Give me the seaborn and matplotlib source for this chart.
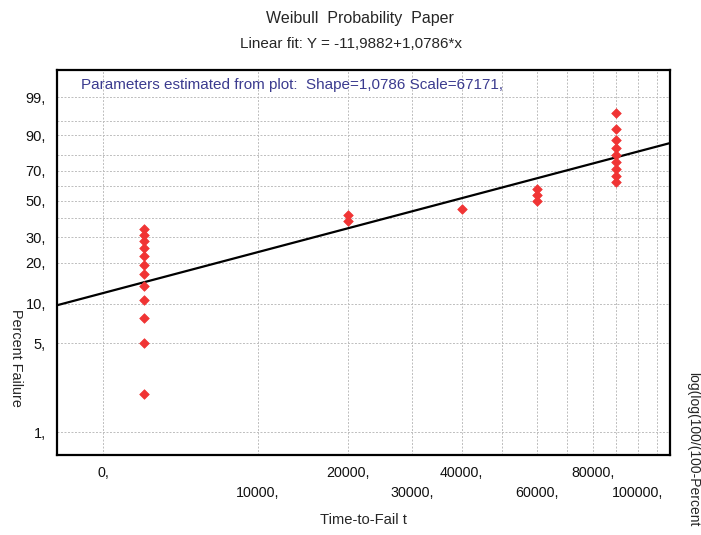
import numpy as np
import pandas as pd
import matplotlib
matplotlib.use("Agg")
import matplotlib.pyplot as plt
import seaborn as sns

# ---------------- data ----------------
time_to_fail = [12000, 12000, 12000, 12000, 12000, 12000, 12000, 12000, 12000, 12000, 12000, 12000,
                30000, 30000,
                50000,
                70000, 70000, 70000,
                100000, 100000, 100000, 100000, 100000, 100000, 100000, 100000, 100000]
percent_failure = [2.0, 5.0, 7.8, 10.7, 13.7, 16.5, 19.2, 22.4, 25.4, 28.1, 31.1, 34.0,
                   38.2, 41.3,
                   45.2,
                   49.8, 53.9, 57.9,
                   62.1, 66.5, 71.1, 75.7, 79.7, 84.0, 88.0, 92.4, 96.8]
fit_intercept = -11.9882
fit_slope = 1.0786

y_tick_values = [1, 5, 10, 20, 30, 50, 70, 90, 99]
y_tick_labels = ["1,", "5,", "10,", "20,", "30,", "50,", "70,", "90,", "99,"]
y_grid_values = [1, 5, 10, 20, 30, 40, 50, 60, 70, 80, 90, 95, 99]

x_grid_values = [10000, 20000, 30000, 40000, 50000, 60000, 70000, 80000,
                 90000, 100000, 110000, 120000]
x_row1_pos = [10000, 30000, 50000, 90000]
x_row1_labels = ["0,", "20000,", "40000,", "80000,"]
x_row2_pos = [20000, 40000, 70000, 110000]
x_row2_labels = ["10000,", "30000,", "60000,", "100000,"]

t_min, t_max = 8137, 127200
p_bottom, p_top = 0.6622, 99.9488   # percent at bottom / top edge


def wy(p):
    p = np.asarray(p, dtype=float) / 100.0
    return np.log(-np.log(1.0 - p))


def wx(t):
    return np.log(np.asarray(t, dtype=float))


# ---------------- styling ----------------
sns.set_style("white")
plt.rcParams["font.family"] = ["Liberation Sans", "DejaVu Sans"]
plt.rcParams["font.size"] = 10

fig = plt.figure(figsize=(7.01, 5.35), dpi=100)
ax = fig.add_axes([57 / 701, 1 - 455 / 535, 613 / 701, 385 / 535])

df = pd.DataFrame({"x": wx(time_to_fail), "y": wy(percent_failure)})

xlo, xhi = float(wx(t_min)), float(wx(t_max))
ylo, yhi = float(wy(p_bottom)), float(wy(p_top))

grid_kw = dict(color="#bdbdbd", lw=0.7, ls=(0, (2, 1.6)), zorder=0)
for g in x_grid_values:
    ax.axvline(float(wx(g)), **grid_kw)
for g in y_grid_values:
    ax.axhline(float(wy(g)), **grid_kw)

# fit line
line_x = np.array([xlo, xhi])
line_df = pd.DataFrame({"x": line_x, "y": fit_intercept + fit_slope * line_x})
sns.lineplot(data=line_df, x="x", y="y", ax=ax, color="black", lw=1.6, zorder=3)

sns.scatterplot(data=df, x="x", y="y", ax=ax, marker="D", s=24,
                color="#f03434", edgecolor="#f03434", linewidth=0.5, zorder=4)

ax.set_xlim(xlo, xhi)
ax.set_ylim(ylo, yhi)

ax.set_yticks(wy(y_tick_values))
ax.set_yticklabels(y_tick_labels)
ax.set_xticks(wx(x_row1_pos))
ax.set_xticklabels(x_row1_labels)
ax.set_xticks(wx(x_row2_pos), minor=True)
ax.set_xticklabels(x_row2_labels, minor=True)
ax.tick_params(axis="y", length=0, pad=8, labelsize=10.5, labelcolor="#111111")
ax.tick_params(axis="x", which="major", length=0, pad=8, labelsize=10.3, labelcolor="#111111")
ax.tick_params(axis="x", which="minor", length=0, pad=22, labelsize=10.3, labelcolor="#111111")
ax.set_xlabel("")
ax.set_ylabel("")

for s in ax.spines.values():
    s.set_visible(True)
    s.set_color("black")
    s.set_linewidth(1.6)

ax.text((81 - 57) / 613, 1 - 15 / 385, "Parameters estimated from plot:  Shape=1,0786 Scale=67171,",
        transform=ax.transAxes, ha="left", va="center", color="#3b3b8f", fontsize=11)

fig.text(360 / 701, 1 - 18 / 535, "Weibull  Probability  Paper",
         ha="center", va="center", fontsize=11.5)
fig.text(351 / 701, 1 - 44 / 535, "Linear fit: Y = -11,9882+1,0786*x",
         ha="center", va="center", fontsize=11)
fig.text(363 / 701, 1 - 520 / 535, "Time-to-Fail t", ha="center", va="center", fontsize=10.6)
fig.text(16 / 701, 1 - 358 / 535, "Percent Failure", rotation=270,
         ha="center", va="center", fontsize=10.4)
fig.text(693 / 701, 1 - 372 / 535, "log(log(100/(100-Percent", rotation=270,
         rotation_mode="anchor", ha="left", va="center", fontsize=10)

fig.savefig("out.png", dpi=100)
